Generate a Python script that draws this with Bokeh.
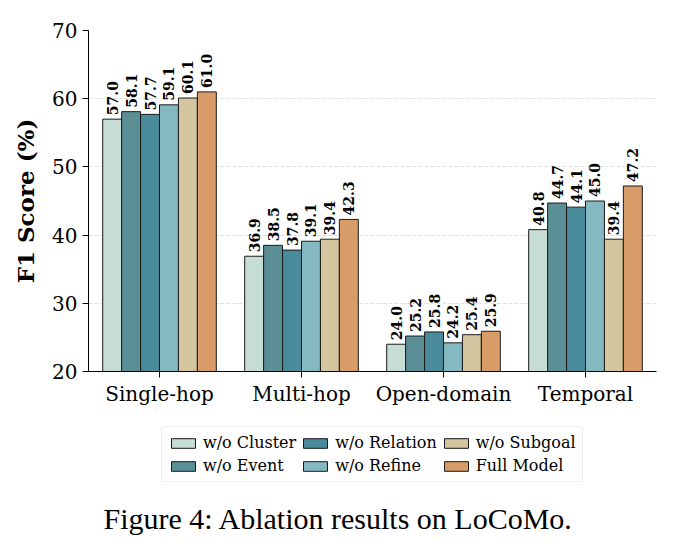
import math
from bokeh.plotting import figure
from bokeh.layouts import column
from bokeh.models import ColumnDataSource, FactorRange, Legend, LegendItem, Label
from bokeh.transform import dodge
from bokeh.core.properties import value
from bokeh.embed import file_html
from bokeh.resources import INLINE

# Question categories on LoCoMo
categories = ["Single-hop", "Multi-hop", "Open-domain", "Temporal"]

# F1 (%) of each ablation variant per category
wo_cluster = [57.0, 36.9, 24.0, 40.8]
wo_event = [58.1, 38.5, 25.2, 44.7]
wo_relation = [57.7, 37.8, 25.8, 44.1]
wo_refine = [59.1, 39.1, 24.2, 45.0]
wo_subgoal = [60.1, 39.4, 25.4, 39.4]
full_model = [61.0, 42.3, 25.9, 47.2]

series_names = ["w/o Cluster", "w/o Event", "w/o Relation", "w/o Refine", "w/o Subgoal", "Full Model"]
series_values = [wo_cluster, wo_event, wo_relation, wo_refine, wo_subgoal, full_model]
colors = ["#c5ddd4", "#5b8f96", "#4a8b9b", "#85b9c2", "#d3c69e", "#d79c68"]

SERIF = "DejaVu Serif"
BAR_EDGE = "#1a1a1a"

data = {"cat": categories}
keys = []
for i, vals in enumerate(series_values):
    k = f"s{i}"
    keys.append(k)
    data[k] = vals
    data[k + "_lbl"] = [f"{v:.1f}" for v in vals]
source = ColumnDataSource(data)

# ---- main bar chart ----
p = figure(
    x_range=FactorRange(*categories),
    y_range=(20, 70),
    width=678,
    height=410,
    output_backend="svg",
    toolbar_location=None,
    min_border_left=88,
    min_border_right=22,
    min_border_top=30,
    min_border_bottom=39,
)
p.x_range.range_padding = 0.0
p.outline_line_color = None
p.background_fill_color = "white"

p.yaxis.ticker = [20, 30, 40, 50, 60, 70]
p.yaxis.axis_label = "F1 Score (%)"
p.yaxis.axis_label_text_font = SERIF
p.yaxis.axis_label_text_font_style = "bold"
p.yaxis.axis_label_text_font_size = "23px"
p.yaxis.axis_label_text_color = "black"
p.yaxis.axis_label_standoff = 10
for ax in (p.xaxis, p.yaxis):
    ax.major_label_text_font = SERIF
    ax.major_label_text_font_size = "20px"
    ax.major_label_text_color = "black"
    ax.axis_line_color = "black"
    ax.major_tick_line_color = "black"
    ax.major_tick_out = 6
    ax.major_tick_in = 0
    ax.minor_tick_line_color = None
p.xaxis.major_label_standoff = 4

p.xgrid.grid_line_color = None
p.ygrid.grid_line_color = "#d9d9d9"
p.ygrid.grid_line_dash = "4 2"
p.ygrid.grid_line_width = 0.8

bar_w = 0.8 / len(series_names)
for i, k in enumerate(keys):
    off = (i - (len(keys) - 1) / 2) * bar_w
    p.vbar(
        x=dodge("cat", off, range=p.x_range), top=k, bottom=20, width=bar_w,
        source=source, fill_color=colors[i], line_color=BAR_EDGE, line_width=1,
    )
    p.text(
        x=dodge("cat", off, range=p.x_range), y=k, text=k + "_lbl", source=source,
        angle=math.pi / 2, text_align="left", text_baseline="middle",
        y_offset=-4, text_font=value(SERIF), text_font_style="bold",
        text_font_size="14px", text_color="black",
    )

# ---- legend strip and figure caption ----
q = figure(
    width=678, height=139, x_range=(0, 1), y_range=(0, 1),
    x_axis_type=None, y_axis_type=None,
    output_backend="svg", toolbar_location=None,
    min_border=0,
)
q.outline_line_color = None
q.grid.visible = False

# legend swatches: proxy glyphs with no drawable data
items = []
nan = float("nan")
for i, name in enumerate(series_names):
    swatch = q.vbar(x=[nan], top=[nan], width=0.1, fill_color=colors[i],
                    line_color=BAR_EDGE, line_width=1)
    items.append(LegendItem(label=name, renderers=[swatch]))

legend = Legend(
    items=items, orientation="vertical", nrows=2, location=(73, 67),
    label_text_font=SERIF, label_text_font_size="16px", label_text_color="black",
    glyph_width=30, glyph_height=12, label_standoff=5, label_height=18,
    spacing=4, padding=6, margin=0,
    border_line_color="#dddddd", border_line_width=1,
    background_fill_color="white",
)
legend.border_radius = 3
q.add_layout(legend, "center")

caption = Label(
    x=250, y=31, x_units="screen", y_units="screen",
    text="Figure 4: Ablation results on LoCoMo.", text_align="center",
    text_baseline="middle", text_font="Liberation Serif", text_font_size="30px",
    text_color="black",
)
q.add_layout(caption)

open("out.html", "w").write(file_html(column(p, q, spacing=0), INLINE))
